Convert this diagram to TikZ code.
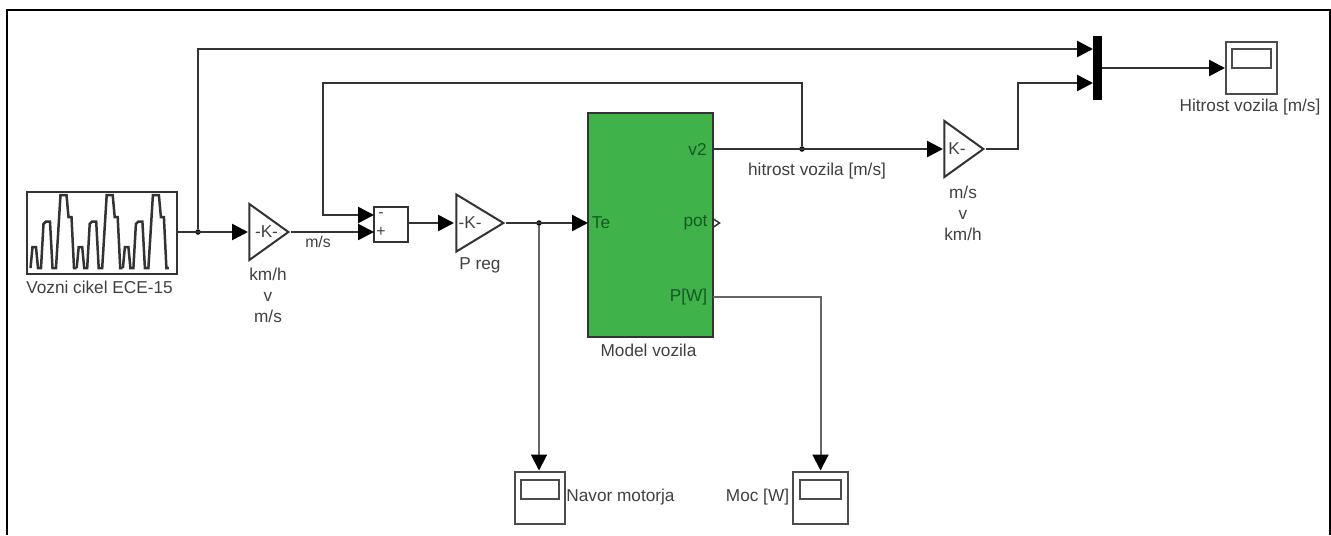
\documentclass[tikz,border=0pt]{standalone}
\usepackage{fontspec}
\setmainfont{Liberation Sans}
\usetikzlibrary{arrows.meta,shapes.geometric}
\definecolor{ModelColor}{rgb}{0.25,0.70,0.29}
\definecolor{PortColor}{rgb}{0.08,0.35,0.14}
\definecolor{TextColor}{rgb}{0.25,0.25,0.25}
\tikzstyle{block-base}=[rectangle,
                        draw=black!80,
                        line width=0.04cm,
                        inner sep=0pt,
                       ]
\tikzstyle{source}=[block-base,
                    minimum width=3.0cm,
                    minimum height=1.64cm]
\tikzstyle{sumblock}=[block-base,
                      minimum width=0.68cm,
                      minimum height=0.7cm]
\tikzstyle{model}=[block-base,
                   fill={ModelColor},
                   minimum width=2.5cm,
                   minimum height=4.48cm]
\tikzstyle{muxbar}=[rectangle,
                    fill=black,
                    inner sep=0pt,
                    minimum width=0.18cm,
                    minimum height=1.28cm]
\tikzstyle{scopebox}=[block-base,
                      draw=black!70,
                      minimum height=1.04cm]
\tikzstyle{screen}=[block-base,
                    draw=black!70,
                    minimum height=0.38cm]
\tikzstyle{gain}=[isosceles triangle,
                  isosceles triangle stretches,
                  shape border rotate=0,
                  draw=black!80,
                  line width=0.04cm,
                  inner sep=0pt,
                  anchor=apex]
\tikzstyle{junction}=[circle,
                      fill=black,
                      inner sep=0pt,
                      minimum size=0.11cm]
\tikzstyle{caption}=[text=TextColor,
                     align=center,
                     inner sep=0pt,
                     font=\fontsize{9.8}{12}\selectfont]
\tikzstyle{port}=[caption,
                  text=PortColor]
\tikzstyle{smallcaption}=[caption,
                          font=\fontsize{9}{11}\selectfont]
\tikzstyle{wire}=[line width=0.05cm,
                  draw=black!80]
\tikzstyle{signal}=[wire,
                    -{Triangle[length=0.32cm,width=0.32cm,black]}]
\tikzstyle{scopesignal}=[signal,
                         line width=0.04cm,
                         draw=black!60]

\begin{document}
\begin{tikzpicture}
\useasboundingbox (0cm, 0cm) rectangle (26.62cm, -10.7cm);

\coordinate (frame_start) at (0.14cm, -10.7cm);
\coordinate (frame_corner) at (26.6cm, -0.2cm);
\coordinate (frame_end) at (26.6cm, -10.7cm);
\draw[line width=0.04cm] (frame_start) |- (frame_corner) -- (frame_end);

\node at (2.04cm,  -4.66cm) (cycle)      [source]   {};
\node at (5.82cm,  -4.64cm) (gain_kmh)   [gain, minimum width=1.12cm, minimum height=0.78cm] {};
\node at (7.82cm,  -4.49cm) (sum)        [sumblock] {};
\node at (10.12cm, -4.46cm) (gain_reg)   [gain, minimum width=1.14cm, minimum height=0.94cm] {};
\node at (13.01cm, -4.50cm) (vehicle)    [model]    {};
\node at (19.72cm, -2.98cm) (gain_ms)    [gain, minimum width=1.12cm, minimum height=0.78cm] {};
\node at (21.95cm, -1.36cm) (mux)        [muxbar]   {};

\node at (25.03cm, -1.36cm) (scope_speed)  [scopebox, minimum width=1.02cm] {};
\node at (25.03cm, -1.16cm) (screen_speed) [screen, minimum width=0.78cm]   {};
\node at (10.80cm, -9.95cm) (scope_torque)  [scopebox, minimum width=1.0cm] {};
\node at (10.80cm, -9.79cm) (screen_torque) [screen, minimum width=0.76cm]  {};
\node at (16.41cm, -9.95cm) (scope_power)  [scopebox, minimum width=1.1cm]  {};
\node at (16.41cm, -9.79cm) (screen_power) [screen, minimum width=0.82cm]   {};

\node at (5.33cm,  -4.64cm) (gain_kmh_text) [caption] {-K-};
\node at (9.40cm,  -4.46cm) (gain_reg_text) [caption] {-K-};
\node at (19.14cm, -2.98cm) (gain_ms_text)  [caption] {K-};

\node at (1.99cm,  -5.74cm) (cycle_label)   [caption] {Vozni cikel ECE-15};
\node at (5.36cm,  -5.90cm) (kmh_label)     [caption] {km/h\\v\\m/s};
\node at (6.36cm,  -4.84cm) (ms_label)      [smallcaption] {m/s};
\node at (7.62cm,  -4.30cm) (sum_minus)     [smallcaption] {-};
\node at (7.62cm,  -4.64cm) (sum_plus)      [smallcaption] {+};
\node at (9.60cm,  -5.30cm) (reg_label)     [caption] {P reg};
\node at (12.02cm, -4.46cm) (port_te)       [port]    {Te};
\node at (13.95cm, -2.98cm) (port_v)        [port]    {v2};
\node at (13.91cm, -4.46cm) (port_pot)      [port]    {pot};
\node at (13.77cm, -5.94cm) (port_p)        [port]    {P[W]};
\node at (12.97cm, -7.00cm) (vehicle_label) [caption] {Model vozila};
\node at (16.34cm, -3.42cm) (speed_label)   [caption] {hitrost vozila [m/s]};
\node at (19.26cm, -4.26cm) (convert_label) [caption] {m/s\\v\\km/h};
\node at (25.00cm, -2.14cm) (scope_speed_label)  [caption] {Hitrost vozila [m/s]};
\node at (12.41cm, -9.94cm) (scope_torque_label) [caption] {Navor motorja};
\node at (15.15cm, -9.94cm) (scope_power_label)  [caption] {Moc [W]};

\foreach \shift in {0cm, 0.924cm, 1.848cm} {
  \draw[wire, shift={(\shift, 0cm)}] plot coordinates {(0.61,-5.36) (0.65,-4.94) (0.72,-4.94) (0.76,-5.36) (0.82,-5.36) (0.87,-4.48) (0.92,-4.43) (1.00,-4.43) (1.05,-5.36) (1.12,-5.36) (1.21,-3.90) (1.33,-3.90) (1.37,-4.34) (1.43,-4.34) (1.48,-5.36) (1.53,-5.36)};
}

\node at (3.96cm,  -4.64cm) (cycle_split) [junction] {};
\node at (10.78cm, -4.46cm) (reg_split)   [junction] {};
\node at (16.04cm, -2.98cm) (speed_split) [junction] {};

\coordinate (cycle_out) at (3.54cm, -4.64cm);
\coordinate (sum_in_minus) at (7.48cm, -4.30cm);
\coordinate (sum_in_plus) at (7.48cm, -4.64cm);
\coordinate (feedback_corner) at (6.46cm, -1.66cm);
\coordinate (mux_in_top) at (21.86cm, -0.98cm);
\coordinate (mux_in_low) at (21.86cm, -1.66cm);
\coordinate (mux_corner) at (20.36cm, -1.66cm);
\coordinate (vehicle_te) at (11.76cm, -4.46cm);
\coordinate (vehicle_v) at (14.26cm, -2.98cm);
\coordinate (vehicle_p) at (14.26cm, -5.94cm);
\coordinate (gain_kmh_in) at (4.96cm, -4.64cm);
\coordinate (gain_reg_in) at (9.08cm, -4.46cm);
\coordinate (gain_ms_in) at (18.86cm, -2.98cm);
\coordinate (sum_out) at (8.16cm, -4.46cm);
\coordinate (pot_top) at (14.27cm, -4.38cm);
\coordinate (pot_tip) at (14.39cm, -4.46cm);
\coordinate (pot_low) at (14.27cm, -4.54cm);

\draw[signal] (cycle_out) -- (gain_kmh_in);
\draw[signal] (cycle_split) |- (mux_in_top);
\draw[signal] (gain_kmh.apex) -- (sum_in_plus);
\draw[signal] (speed_split) |- (feedback_corner) |- (sum_in_minus);
\draw[signal] (sum_out) -- (gain_reg_in);
\draw[signal] (gain_reg.apex) -- (vehicle_te);
\draw[scopesignal] (reg_split) -- (scope_torque.north -| reg_split);
\draw[signal] (vehicle_v) -- (gain_ms_in);
\draw[signal] (gain_ms.apex) -| (mux_corner) -- (mux_in_low);
\draw[scopesignal] (vehicle_p) -| (scope_power.north);
\draw[signal] (mux) -- (scope_speed);
\draw[wire, line width=0.03cm] (pot_top) -- (pot_tip) -- (pot_low);
\end{tikzpicture}
\end{document}
